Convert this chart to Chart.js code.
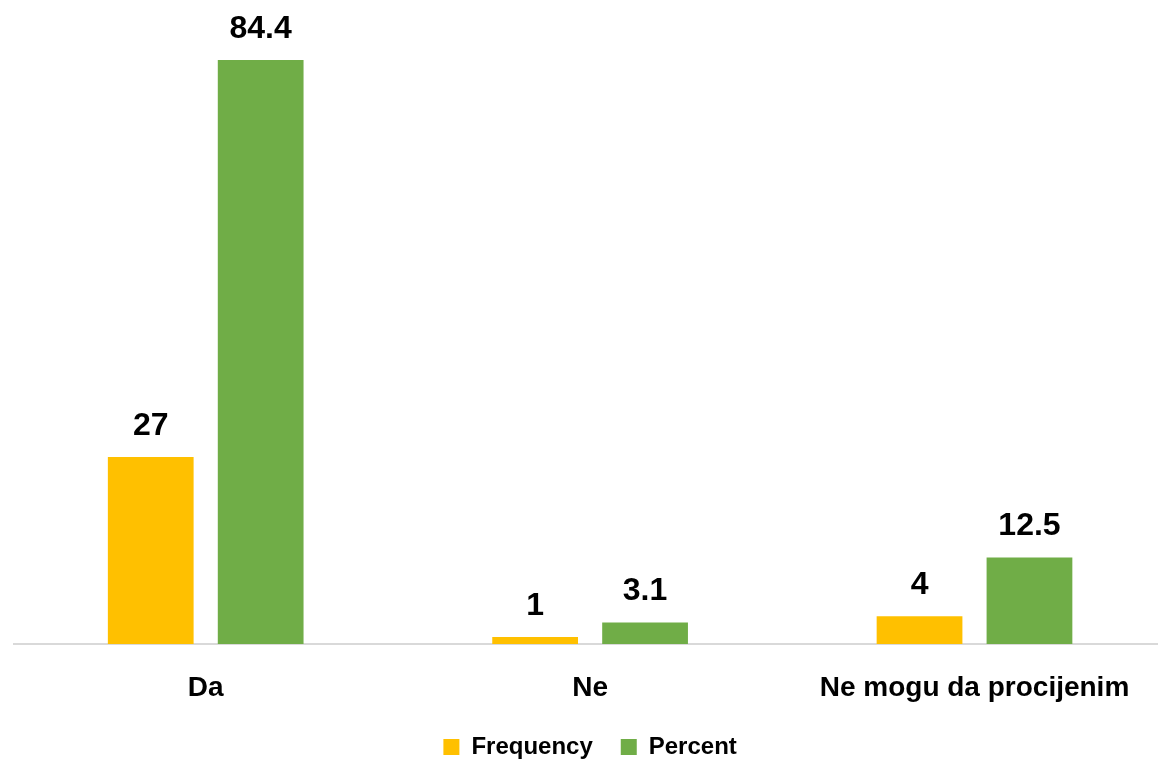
<!DOCTYPE html>
<html>
<head>
<meta charset="utf-8">
<script src="https://cdn.jsdelivr.net/npm/chart.js@4"></script>
<style>
    html, body { margin: 0; padding: 0; background: #fff; overflow: hidden; }
    #wrap { width: 1170px; height: 759px; }
</style>
</head>
<body>
<div id="wrap"><canvas id="barChart" width="1170" height="759"></canvas></div>
<script>
// veriler
const categories = ['Da', 'Ne', 'Ne mogu da procijenim'];
const frequency = [27, 1, 4];
const percent = [84.4, 3.1, 12.5];

const FONT = "'Liberation Sans', Arial, sans-serif";

// değer etiketleri (datalabels eklentisi yok, basit bir eklenti)
const valueLabels = {
    id: 'valueLabels',
    afterDatasetsDraw(chart) {
        const ctx = chart.ctx;
        ctx.save();
        ctx.font = 'bold 32px ' + FONT;
        ctx.fillStyle = '#000';
        ctx.textAlign = 'center';
        ctx.textBaseline = 'alphabetic';
        chart.data.datasets.forEach((ds, i) => {
            chart.getDatasetMeta(i).data.forEach((bar, j) => {
                ctx.fillText(String(ds.data[j]), bar.x, bar.y - 22);
            });
        });
        ctx.restore();
    }
};

const ctx = document.getElementById('barChart').getContext('2d');
new Chart(ctx, {
    type: 'bar',
    data: {
        labels: categories,
        datasets: [
            { label: 'Frequency', data: frequency, backgroundColor: '#FFC000' },
            { label: 'Percent', data: percent, backgroundColor: '#70AD47' }
        ]
    },
    options: {
        responsive: false,
        animation: false,
        devicePixelRatio: 1,
        categoryPercentage: 0.572,
        barPercentage: 0.78,
        layout: { padding: { left: 13.5, right: 3.3, top: 21.3, bottom: -10 } },
        scales: {
            x: {
                grid: { display: false, drawTicks: false },
                border: { display: true, color: '#d9d9d9', width: 2 },
                ticks: { color: '#000', padding: 27.5, font: { family: FONT, size: 28, weight: 'bold' } },
                afterFit: (axis) => { axis.height -= 25.5; }
            },
            y: {
                display: false,
                min: 0,
                max: 90
            }
        },
        plugins: {
            legend: {
                position: 'bottom',
                labels: {
                    color: '#000',
                    boxWidth: 16,
                    boxHeight: 16,
                    padding: 28,
                    font: { family: FONT, size: 24, weight: 'bold' }
                }
            },
            tooltip: { enabled: false }
        }
    },
    plugins: [valueLabels]
});
</script>
</body>
</html>
